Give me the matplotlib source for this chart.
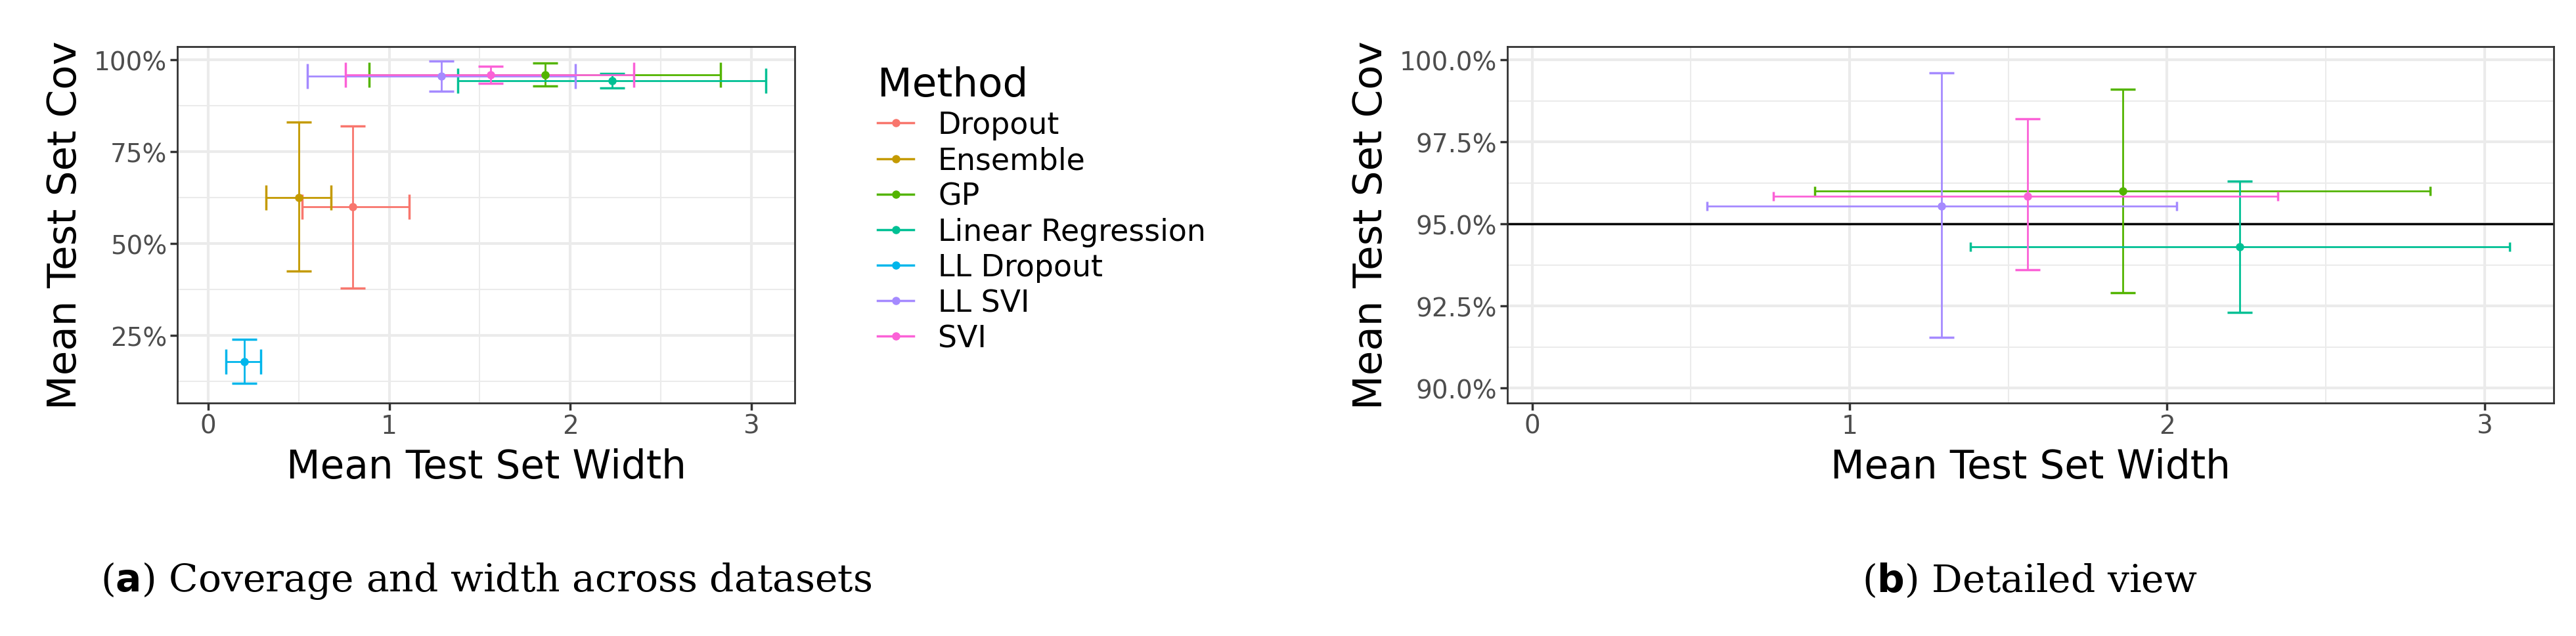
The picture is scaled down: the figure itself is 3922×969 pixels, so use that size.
import matplotlib
matplotlib.use("Agg")
import matplotlib.pyplot as plt
from matplotlib.ticker import FixedLocator, FuncFormatter
from matplotlib.lines import Line2D

methods = ["Dropout", "Ensemble", "GP", "Linear Regression", "LL Dropout", "LL SVI", "SVI"]
colors = ["#F8766D", "#C49A00", "#53B400", "#00C094", "#00B6EB", "#A58AFF", "#FB61D7"]
width = [0.80, 0.50, 1.86, 2.23, 0.20, 1.29, 1.56]
width_lo = [0.52, 0.32, 0.89, 1.38, 0.10, 0.55, 0.76]
width_hi = [1.11, 0.68, 2.83, 3.08, 0.29, 2.03, 2.35]
cov = [60.0, 62.5, 96.0, 94.3, 18.0, 95.55, 95.85]
cov_lo = [38.0, 42.5, 92.9, 92.3, 12.0, 91.55, 93.6]
cov_hi = [82.0, 83.0, 99.1, 96.3, 24.0, 99.6, 98.2]
detail = ["GP", "Linear Regression", "LL SVI", "SVI"]

fig = plt.figure(figsize=(39.22, 9.7), dpi=100)
ax1 = fig.add_axes([270/3922, 1-615/970, 940/3922, 543/970])
ax2 = fig.add_axes([2295/3922, 1-615/970, 1593/3922, 543/970])

def style(ax, xmaj, xmin, ymaj, ymin, fmt):
    ax.set_facecolor("white")
    for x in xmin: ax.axvline(x, color="#EBEBEB", lw=1.5, zorder=0)
    for y in ymin: ax.axhline(y, color="#EBEBEB", lw=1.5, zorder=0)
    for x in xmaj: ax.axvline(x, color="#EBEBEB", lw=3, zorder=0)
    for y in ymaj: ax.axhline(y, color="#EBEBEB", lw=3, zorder=0)
    ax.xaxis.set_major_locator(FixedLocator(xmaj))
    ax.yaxis.set_major_locator(FixedLocator(ymaj))
    ax.yaxis.set_major_formatter(FuncFormatter(fmt))
    ax.tick_params(labelsize=28, labelcolor="#4D4D4D", length=8, width=2.5, color="#333333")
    for s in ax.spines.values():
        s.set_color("#333333"); s.set_linewidth(2)
    ax.set_xlabel("Mean Test Set Width", fontsize=43, labelpad=10)
    ax.set_ylabel("Mean Test Set Cov", fontsize=44, labelpad=10)

def draw(ax, sel, vcap, hcap):
    for i, m in enumerate(methods):
        if m not in sel: continue
        c = colors[i]
        ax.errorbar(width[i], cov[i], yerr=[[cov[i]-cov_lo[i]], [cov_hi[i]-cov[i]]],
                    fmt="none", ecolor=c, elinewidth=2, capsize=vcap, capthick=2.5, zorder=3)
        ax.errorbar(width[i], cov[i], xerr=[[width[i]-width_lo[i]], [width_hi[i]-width[i]]],
                    fmt="none", ecolor=c, elinewidth=2, capsize=hcap, capthick=2.5, zorder=3)
        ax.plot(width[i], cov[i], "o", color=c, ms=8, zorder=4)

style(ax1, [0, 1, 2, 3], [0.5, 1.5, 2.5], [25, 50, 75, 100], [12.5, 37.5, 62.5, 87.5],
      lambda v, p: f"{v:.0f}%")
draw(ax1, methods, 14, 14)
ax1.set_xlim(-0.17, 3.24); ax1.set_ylim(6.7, 103.6)

style(ax2, [0, 1, 2, 3], [0.5, 1.5, 2.5], [90, 92.5, 95, 97.5, 100], [91.25, 93.75, 96.25, 98.75],
      lambda v, p: f"{v:.1f}%")
ax2.axhline(95, color="black", lw=2.5, zorder=2)
draw(ax2, detail, 14, 5)
ax2.set_xlim(-0.078, 3.218); ax2.set_ylim(89.55, 100.4)

handles = [Line2D([0], [0], color=c, lw=2.5, marker="o", ms=8) for c in colors]
leg = fig.legend(handles, methods, title="Method", loc="upper left",
                 bbox_to_anchor=(1295/3922, 1-60/970), frameon=False, fontsize=33,
                 title_fontsize=44, handlelength=1.2, labelspacing=0.2)
leg._legend_box.align = "left"

fig.text(740/3922, 1-885/970, r"($\mathbf{a}$) Coverage and width across datasets",
         ha="center", va="center", fontsize=42, family="DejaVu Serif")
fig.text(3090/3922, 1-885/970, r"($\mathbf{b}$) Detailed view",
         ha="center", va="center", fontsize=42, family="DejaVu Serif")

fig.savefig("out.png", dpi=100)
